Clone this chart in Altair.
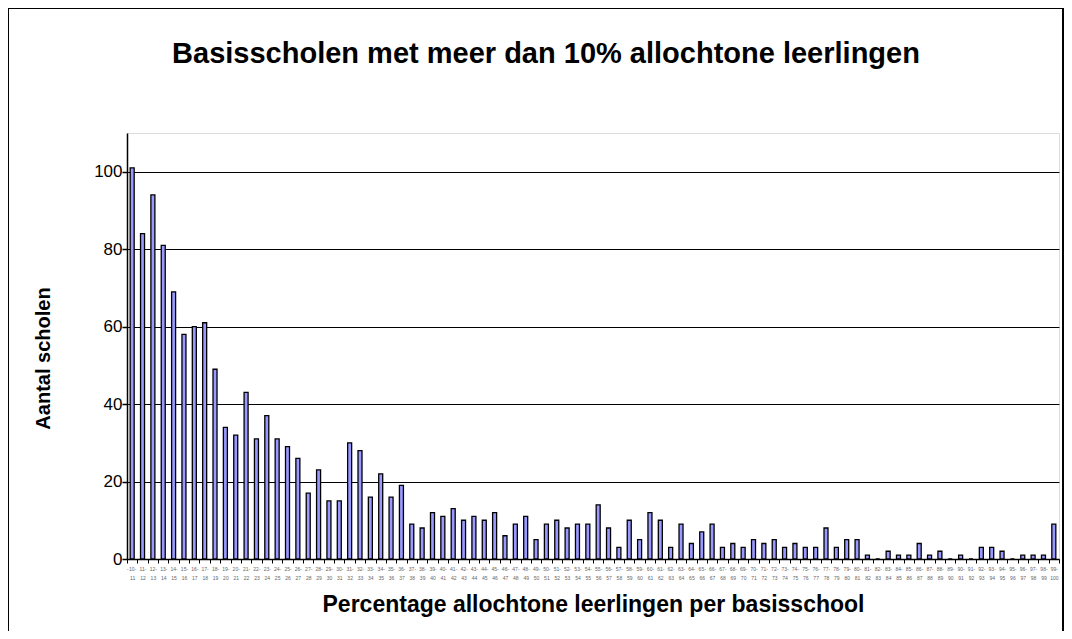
import altair as alt
import pandas as pd

categories = [
    "10-11", "11-12", "12-13", "13-14", "14-15", "15-16", "16-17", "17-18", "18-19", "19-20",
    "20-21", "21-22", "22-23", "23-24", "24-25", "25-26", "26-27", "27-28", "28-29", "29-30",
    "30-31", "31-32", "32-33", "33-34", "34-35", "35-36", "36-37", "37-38", "38-39", "39-40",
    "40-41", "41-42", "42-43", "43-44", "44-45", "45-46", "46-47", "47-48", "48-49", "49-50",
    "50-51", "51-52", "52-53", "53-54", "54-55", "55-56", "56-57", "57-58", "58-59", "59-60",
    "60-61", "61-62", "62-63", "63-64", "64-65", "65-66", "66-67", "67-68", "68-69", "69-70",
    "70-71", "71-72", "72-73", "73-74", "74-75", "75-76", "76-77", "77-78", "78-79", "79-80",
    "80-81", "81-82", "82-83", "83-84", "84-85", "85-86", "86-87", "87-88", "88-89", "89-90",
    "90-91", "91-92", "92-93", "93-94", "94-95", "95-96", "96-97", "97-98", "98-99", "99-100",
]

counts = [
    101, 84, 94, 81, 69, 58, 60, 61, 49, 34,
    32, 43, 31, 37, 31, 29, 26, 17, 23, 15,
    15, 30, 28, 16, 22, 16, 19, 9, 8, 12,
    11, 13, 10, 11, 10, 12, 6, 9, 11, 5,
    9, 10, 8, 9, 9, 14, 8, 3, 10, 5,
    12, 10, 3, 9, 4, 7, 9, 3, 4, 3,
    5, 4, 5, 3, 4, 3, 3, 8, 3, 5,
    5, 1, 0, 2, 1, 1, 4, 1, 2, 0,
    1, 0, 3, 3, 2, 0, 1, 1, 1, 9,
]

y_ticks = [0, 20, 40, 60, 80, 100]

df = pd.DataFrame({"cat": categories, "n": counts})

FONT = "Liberation Sans"
W, H = 932, 426

bars = alt.Chart(df).mark_bar(
    size=4, fill="#9999ff", stroke="#000000", strokeWidth=1.3
).encode(
    x=alt.X(
        "cat:N",
        sort=categories,
        scale=alt.Scale(paddingInner=0, paddingOuter=0),
        axis=alt.Axis(
            title="Percentage allochtone leerlingen per basisschool",
            titleFont=FONT, titleFontSize=23, titleFontWeight="bold", titleColor="#000000",
            titlePadding=13,
            labelExpr="[split(datum.label, '-')[0] + '-', split(datum.label, '-')[1]]",
            labelAngle=0, labelFont=FONT, labelFontSize=5, labelColor="#666666",
            labelLineHeight=9, labelOverlap=False, labelPadding=3,
            tickBand="extent", tickColor="#000000", tickSize=4, tickWidth=1,
            domainColor="#000000", domainWidth=1.5, grid=False,
        ),
    ),
    y=alt.Y(
        "n:Q",
        scale=alt.Scale(domain=[0, 110], nice=False),
        axis=alt.Axis(
            title="Aantal scholen", values=y_ticks,
            titleFont=FONT, titleFontSize=20, titleFontWeight="bold", titleColor="#000000",
            titlePadding=40, titleY=225,
            labelFont=FONT, labelFontSize=17, labelColor="#000000", labelPadding=0,
            tickColor="#000000", tickSize=5, tickWidth=1.5,
            domainColor="#000000", domainWidth=1.5,
            grid=True, gridColor="#000000", gridWidth=1.2,
        ),
    ),
)

frame_src = alt.Data(values=[{"a": 1}])
frame_left = alt.Chart(frame_src).mark_rule(color="#000000", strokeWidth=2, clip=False).encode(
    x=alt.value(-119), y=alt.value(-125), y2=alt.value(500)
)
frame_right = alt.Chart(frame_src).mark_rule(color="#000000", strokeWidth=2, clip=False).encode(
    x=alt.value(936), y=alt.value(-125), y2=alt.value(500)
)
frame_top = alt.Chart(frame_src).mark_rule(color="#000000", strokeWidth=2, clip=False).encode(
    x=alt.value(-120), x2=alt.value(937), y=alt.value(-125)
)

chart = alt.layer(frame_left, frame_right, frame_top, bars).properties(
    width=W, height=H,
    autosize=alt.AutoSizeParams(type="none"),
    padding={"left": 119, "top": 125, "right": 5, "bottom": 72},
    title=alt.Title(
        "Basisscholen met meer dan 10% allochtone leerlingen",
        font=FONT, fontSize=29, fontWeight="bold", color="#000000",
        anchor="middle", dx=-47, offset=-62,
    ),
).configure_view(
    fill="#c0c0c0", stroke="#808080", strokeWidth=1.5
).configure(background="#ffffff")

chart.save("out.html", embed_options={"renderer": "svg", "actions": False})
